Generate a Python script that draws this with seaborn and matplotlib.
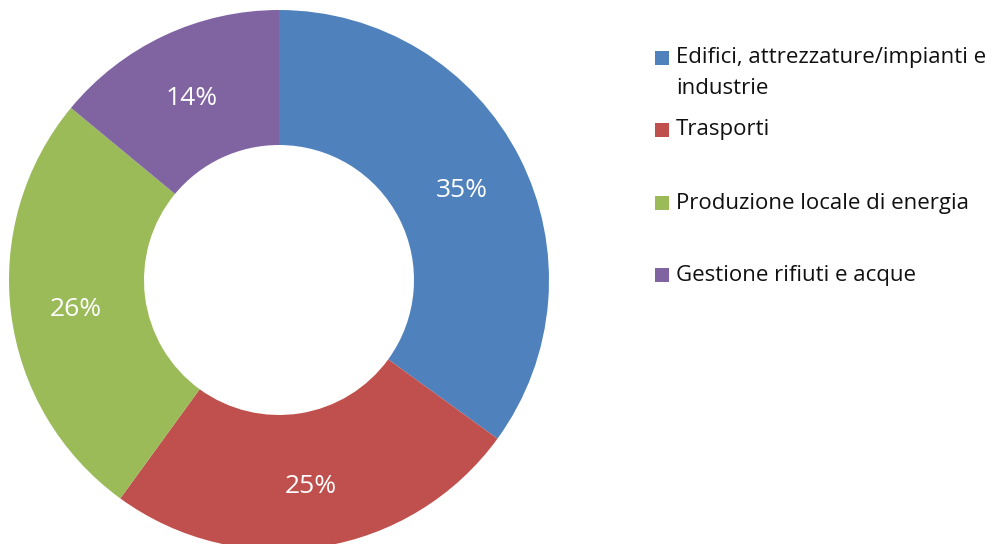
import matplotlib.pyplot as plt
import seaborn as sns

# Dati
categorie = ['Edifici, attrezzature/impianti e\nindustrie', 'Trasporti',
             'Produzione locale di energia', 'Gestione rifiuti e acque']
valori = [35, 25, 26, 14]
colori = ['#4F81BD', '#C0504D', '#9BBB59', '#8064A2']

sns.set_theme(style='white')
plt.rcParams['font.family'] = ['Open Sans', 'DejaVu Sans']

W, H = 987, 544
fig = plt.figure(figsize=(W / 100, H / 100), dpi=100)

# Asse per la ciambella (centro ~ (279, 280) px, raggio ~270 px)
cx, cy, r = 279, 280, 270
ax = fig.add_axes([(cx - r) / W, 1 - (cy + r) / H, 2 * r / W, 2 * r / H])

wedges, testi, autotesti = ax.pie(
    valori, colors=sns.color_palette(colori), startangle=90, counterclock=False,
    autopct='%1.0f%%', pctdistance=0.76,
    wedgeprops=dict(width=0.5, linewidth=0),
    textprops=dict(color='white', fontsize=19))
for t in autotesti:
    x, y = t.get_position()
    t.set_position((x, y - 0.015))
ax.set_xlim(-1, 1)
ax.set_ylim(-1, 1)
ax.axis('off')

# Legenda disegnata a mano (quadratini + testo)
pos_y = [58, 130, 203, 275]
for lab, col, py in zip(categorie, colori, pos_y):
    fig.patches.append(plt.Rectangle((655 / W, 1 - (py + 7) / H), 14 / W, 14 / H,
                                     transform=fig.transFigure, color=col, lw=0))
    for k, riga in enumerate(lab.split('\n')):
        fig.text(676 / W, 1 - (py + k * 31) / H, riga, fontsize=16,
                 color='#111111', va='center', ha='left')

fig.savefig('out.png', dpi=100)
